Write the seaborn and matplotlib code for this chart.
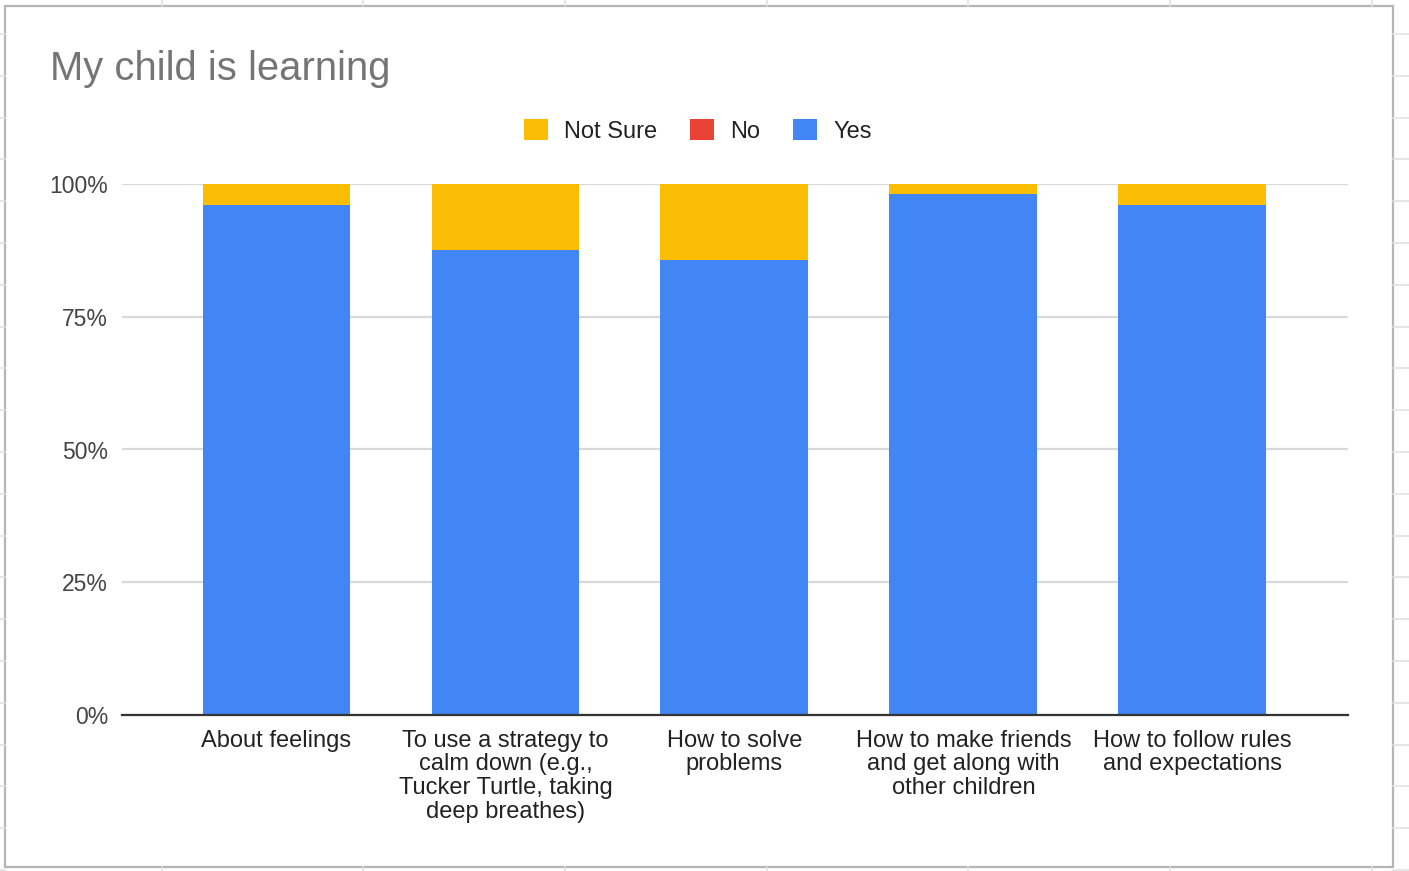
import numpy as np
import pandas as pd
import matplotlib
matplotlib.use("Agg")
import matplotlib.pyplot as plt
from matplotlib.patches import Patch, Rectangle
from matplotlib.lines import Line2D
import seaborn as sns

# Survey items and response shares (fractions of respondents)
categories = [
    "About feelings",
    "To use a strategy to\ncalm down (e.g.,\nTucker Turtle, taking\ndeep breathes)",
    "How to solve\nproblems",
    "How to make friends\nand get along with\nother children",
    "How to follow rules\nand expectations",
]
yes_share = [0.960, 0.876, 0.857, 0.981, 0.960]
no_share = [0.0, 0.0, 0.0, 0.0, 0.0]
not_sure_share = [0.040, 0.124, 0.143, 0.019, 0.040]

series_names = ["Not Sure", "No", "Yes"]
series_colors = {"Not Sure": "#FBBC04", "No": "#EA4335", "Yes": "#4285F4"}

df = pd.DataFrame({
    "item": categories,
    "Yes": yes_share,
    "No": no_share,
    "Not Sure": not_sure_share,
})
# cumulative tops for a stacked look (drawn back to front)
df["top_notsure"] = df["Yes"] + df["No"] + df["Not Sure"]
df["top_no"] = df["Yes"] + df["No"]
df["top_yes"] = df["Yes"]

sns.set_theme(style="white")
plt.rcParams["font.family"] = ["Liberation Sans", "DejaVu Sans"]

W, H = 1409, 871
fig = plt.figure(figsize=(W / 100, H / 100), dpi=100)
fig.patch.set_facecolor("white")

# spreadsheet cell grid around the chart object
grid_c = "#e2e2e2"
for x in [162, 363, 565, 767, 968, 1170, 1372]:
    fig.add_artist(Line2D([x / W, x / W], [1 - 0 / H, 1 - 6 / H], color=grid_c, lw=1.2))
    fig.add_artist(Line2D([x / W, x / W], [1 - 867 / H, 0], color=grid_c, lw=1.2))
for y in np.arange(34, 871, 41.8):
    fig.add_artist(Line2D([0, 5 / W], [1 - y / H, 1 - y / H], color=grid_c, lw=1.2))
    fig.add_artist(Line2D([1393 / W, 1], [1 - y / H, 1 - y / H], color=grid_c, lw=1.2))
fig.add_artist(Rectangle((5 / W, 1 - 867 / H), (1393 - 5) / W, (867 - 6) / H,
                         transform=fig.transFigure, fill=True, facecolor="white",
                         edgecolor="#b5b5b5", lw=1.6, zorder=0))

ax = fig.add_axes([122 / W, 1 - 715 / H, (1348 - 122) / W, (715 - 184) / H])
ax.set_facecolor("none")

bar_w = 0.646
for col, name in [("top_notsure", "Not Sure"), ("top_no", "No"), ("top_yes", "Yes")]:
    sns.barplot(data=df, x="item", y=col, color=series_colors[name], width=bar_w,
                saturation=1, ax=ax, zorder=3, linewidth=0)

ax.set_xlim(-0.675, 4.68)
ax.set_ylim(0, 1)
yt = [0, 0.25, 0.5, 0.75, 1.0]
ax.set_yticks(yt)
ax.set_yticklabels([f"{int(v * 100)}%" for v in yt])
ax.yaxis.grid(True, color="#d9d9d9", lw=1.6, zorder=0)
ax.xaxis.grid(False)
for s in ["top", "right", "left"]:
    ax.spines[s].set_visible(False)
ax.spines["bottom"].set_color("#333333")
ax.spines["bottom"].set_linewidth(1.6)
ax.spines["bottom"].set_zorder(5)
ax.set_xlabel("")
ax.set_ylabel("")
ax.tick_params(axis="y", length=0, pad=10, labelsize=16.5, labelcolor="#444444")
ax.tick_params(axis="x", length=0, pad=10.5, labelsize=17, labelcolor="#222222")
for t in ax.get_xticklabels():
    t.set_linespacing(1.1)
    t.set_multialignment("center")

fig.text(50 / W, 1 - 69 / H, "My child is learning", fontsize=28.8, color="#757575",
         ha="left", va="center")

handles = [Patch(facecolor=series_colors[n], edgecolor="none") for n in series_names]
fig.legend(handles, series_names, loc="center", bbox_to_anchor=(698 / W, 1 - 131 / H),
           ncol=3, frameon=False, fontsize=17, handlelength=1.0, handleheight=1.0,
           handletextpad=0.7, columnspacing=1.4, labelcolor="#222222")

fig.savefig("out.png", dpi=100, facecolor="white")
